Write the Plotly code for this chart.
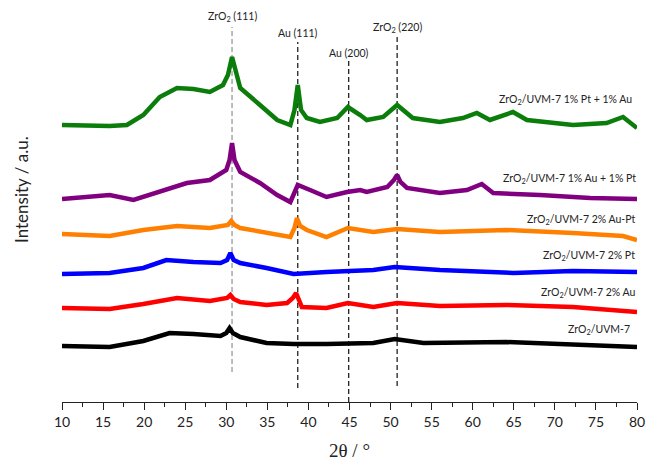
import plotly.graph_objects as go

# ---------------- data (2θ in degrees, intensity in a.u., offset stacked) ----------------
green_x = [10, 15.8, 17.9, 19.9, 21.9, 24, 26, 28, 29.6, 30.2, 30.7, 31.2, 31.7, 34.1, 36.2, 37.8,
           38.3, 38.7, 39.1, 39.8, 41.4, 43.5, 44.8, 46.3, 47.1, 49.1, 50.8, 52.7, 56, 58.8, 60.5,
           62.1, 64.9, 66.6, 72.2, 76.3, 78.3, 80]
green_px = [125, 126, 125, 115, 97, 88, 89, 92, 85, 75, 57, 75, 88, 105, 120, 125,
            110, 85, 110, 118, 122, 118, 107, 115, 120, 117, 105, 118, 122, 118, 113,
            120, 112, 120, 125, 123, 117, 128]

purple_x = [10, 15.8, 18.7, 21.9, 25.2, 28, 30, 30.4, 30.7, 31.0, 31.7, 34.1, 36.2, 37.8, 38.7,
            40.2, 42.2, 44.7, 46.3, 47.1, 49.6, 50.4, 50.8, 51.2, 52, 56, 59.3, 61.1, 62.5,
            68.2, 74.3, 80]
purple_px = [199, 195, 200, 192, 183, 180, 170, 160, 143, 160, 172, 183, 195, 202, 185,
             190, 197, 192, 190, 192, 187, 180, 175, 182, 188, 193, 190, 184, 193,
             195, 198, 199]

orange_x = [10, 15.8, 19.9, 24, 28, 30.2, 30.6, 31.0, 31.7, 34.9, 37.8, 38.3, 38.6, 39.0, 39.8,
            42.2, 44.8, 47.9, 50.8, 56, 64.1, 72.2, 78.3, 80]
orange_px = [234, 236, 230, 226, 228, 225, 221, 225, 228, 233, 237, 228, 218, 226, 230,
             237, 228, 232, 229, 232, 230, 233, 236, 240]

blue_x = [10, 15.8, 19.9, 22.7, 26, 29.3, 30.1, 30.5, 30.9, 31.7, 34.9, 38.2, 42.2, 46.3, 47.9,
          50.5, 56, 65, 72.2, 80]
blue_px = [274, 273, 268, 260, 262, 263, 260, 253, 260, 263, 268, 274, 272, 271, 270,
           267, 270, 273, 271, 272]

red_x = [10, 15.8, 19.9, 24, 28, 30.1, 30.5, 30.9, 31.7, 34.9, 37.4, 38.1, 38.5, 38.9, 39.2,
         42.2, 44.8, 47.9, 50.8, 56, 64.1, 72.2, 80]
red_px = [308, 309, 304, 298, 301, 298, 295, 299, 302, 305, 303, 298, 293, 300, 307,
          308, 303, 307, 303, 306, 305, 307, 312]

black_x = [10, 15.8, 19.9, 23.1, 26, 29.3, 30.0, 30.4, 30.8, 31.7, 34.9, 38.2, 42.2, 46.3, 47.9,
           50.5, 54, 64.1, 72.2, 80]
black_px = [346, 347, 341, 333, 334, 336, 333, 328, 333, 337, 343, 344, 344, 343, 343,
            339, 343, 342, 344, 347]

TOP = 402  # readings above are measured downward; intensity = TOP - reading
green_y = [TOP - v for v in green_px]
purple_y = [TOP - v for v in purple_px]
orange_y = [TOP - v for v in orange_px]
blue_y = [TOP - v for v in blue_px]
red_y = [TOP - v for v in red_px]
black_y = [TOP - v for v in black_px]

series_names = ["ZrO<sub>2</sub>/UVM-7 1% Pt + 1% Au",
                "ZrO<sub>2</sub>/UVM-7 1% Au + 1% Pt",
                "ZrO<sub>2</sub>/UVM-7 2% Au-Pt",
                "ZrO<sub>2</sub>/UVM-7 2% Pt",
                "ZrO<sub>2</sub>/UVM-7 2% Au",
                "ZrO<sub>2</sub>/UVM-7"]

peak_positions = [30.7, 38.7, 44.9, 50.8]
peak_labels = ["ZrO<sub>2</sub> (111)", "Au (111)", "Au (200)", "ZrO<sub>2</sub> (220)"]

x_ticks = list(range(10, 81, 5))

# ---------------- styling / placement ----------------
colors = ["#0b7d0b", "#800080", "#ff8000", "#0000ff", "#ff0000", "#000000"]
label_px_y = [100, 179, 220, 256, 293, 330]
label_px_right = [634, 638, 638, 637, 637, 632]
peak_line_top = [TOP - 27, TOP - 42, TOP - 60, TOP - 37]
peak_line_bot = [TOP - 372, TOP - 388, TOP - 402, TOP - 386]
peak_label_y = [TOP - 17, TOP - 33, TOP - 53, TOP - 28]
peak_colors = ["#999999", "#222222", "#222222", "#222222"]

L, R = 62, 637
xs = [green_x, purple_x, orange_x, blue_x, red_x, black_x]
ys = [green_y, purple_y, orange_y, blue_y, red_y, black_y]

fig = go.Figure()
for x, y, c, n in zip(xs, ys, colors, series_names):
    fig.add_trace(go.Scatter(x=x, y=y, mode="lines", name=n,
                             line=dict(color=c, width=4.5), showlegend=False))

shapes = []
annotations = []
for px_, t, b, c, lab, ly in zip(peak_positions, peak_line_top, peak_line_bot, peak_colors,
                                 peak_labels, peak_label_y):
    shapes.append(dict(type="line", xref="x", yref="y", x0=px_, x1=px_, y0=b, y1=t,
                       line=dict(color=c, width=1.3, dash="5px,3px"), layer="below"))
    annotations.append(dict(x=px_, y=ly, xref="x", yref="y", text=lab, showarrow=False,
                            font=dict(family="Lato", size=10.5, color="#222222"),
                            xanchor="center", yanchor="middle"))

for n, rx, ry in zip(series_names, label_px_right, label_px_y):
    annotations.append(dict(x=(rx - L) / (R - L), y=(TOP - ry) / TOP, xref="paper", yref="paper",
                            text=n, showarrow=False,
                            font=dict(family="Lato", size=10.5, color="#222222"),
                            xanchor="right", yanchor="middle"))

annotations.append(dict(x=(22 - L) / (R - L), y=(TOP - 190) / TOP, xref="paper", yref="paper",
                        text="Intensity / a.u.", showarrow=False, textangle=-90,
                        font=dict(family="Lato", size=17, color="#222222"),
                        xanchor="center", yanchor="middle"))

fig.update_layout(
    width=646, height=465,
    margin=dict(l=L, r=646 - R, t=0, b=465 - TOP),
    paper_bgcolor="white", plot_bgcolor="white",
    shapes=shapes, annotations=annotations,
    xaxis=dict(range=[10, 80], tickvals=x_ticks, ticks="outside", ticklen=7, tickwidth=1.3,
               tickcolor="#222222", showline=True, linecolor="#222222", linewidth=1.3,
               showgrid=False, zeroline=False,
               minor=dict(dtick=2.5, ticks="outside", ticklen=4, tickwidth=1.3,
                          tickcolor="#222222", showgrid=False),
               tickfont=dict(family="Lato", size=14, color="#222222"),
               title=dict(text="2θ / °", font=dict(family="Liberation Serif", size=19,
                                                     color="#222222"), standoff=14)),
    yaxis=dict(range=[0, TOP], visible=False),
)

fig.write_html("out.html")
